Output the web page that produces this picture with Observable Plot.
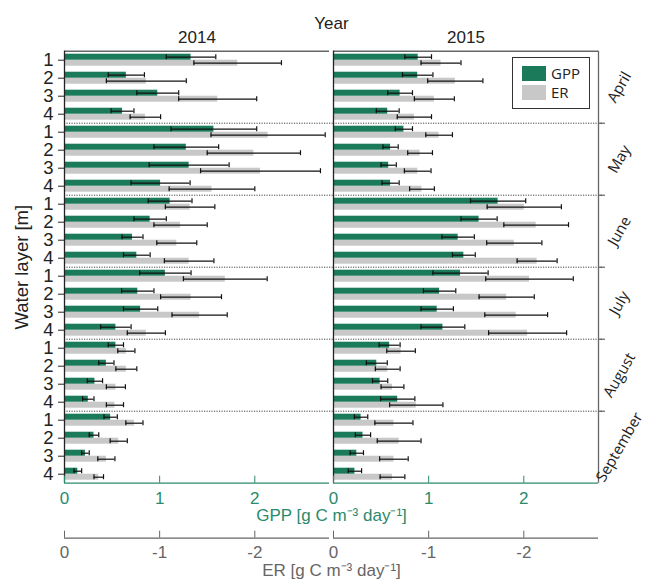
<!DOCTYPE html>
<html>
<head>
<meta charset="utf-8">
<script src="https://cdn.jsdelivr.net/npm/d3@7"></script>
<script src="https://cdn.jsdelivr.net/npm/@observablehq/plot@0.6"></script>
<style>
  body { margin: 0; background: #fff; }
  #chart { position: relative; width: 652px; height: 581px; font-family: "Liberation Sans", Arial, sans-serif; }
  #chart svg { display: block; }
  .legend { position: absolute; left: 512px; top: 57px; width: 76px; height: 50px; border: 1px solid #333; background: #fff;
            font-family: "Open Sans", sans-serif; font-size: 15px; color: #222; }
  .legend .sw { position: absolute; left: 9px; width: 24px; height: 15px; }
  .legend .lb { position: absolute; left: 38px; line-height: 15px; }
</style>
</head>
<body>
<div id="chart"></div>
<script>
// Sampling campaigns, water layers and years
const years = [2014, 2015];
const months = ["April", "May", "June", "July", "August", "September"];
const layers = ["1", "2", "3", "4"];

// Gross primary production (GPP) and its standard deviation, month by month, layers 1-4
const gpp2014   = [1.33, 0.65, 0.98, 0.61,  1.57, 1.28, 1.31, 1.01,  1.11, 0.90, 0.715, 0.76,  1.06, 0.77, 0.80, 0.54,  0.54, 0.44, 0.32, 0.25,  0.485, 0.31, 0.22, 0.14];
const gppSd2014 = [0.26, 0.19, 0.22, 0.12,  0.45, 0.34, 0.42, 0.31,  0.23, 0.17, 0.11, 0.14,  0.27, 0.17, 0.18, 0.16,  0.08, 0.08, 0.08, 0.06,  0.07, 0.05, 0.04, 0.04];
const gpp2015   = [0.89, 0.885, 0.70, 0.57,  0.74, 0.60, 0.58, 0.60,  1.73, 1.53, 1.31, 1.37,  1.335, 1.115, 1.09, 1.15,  0.59, 0.455, 0.49, 0.675,  0.29, 0.31, 0.245, 0.225];
const gppSd2015 = [0.14, 0.16, 0.13, 0.12,  0.09, 0.08, 0.08, 0.09,  0.29, 0.19, 0.17, 0.12,  0.29, 0.17, 0.17, 0.23,  0.11, 0.11, 0.08, 0.18,  0.07, 0.08, 0.07, 0.07];

// Ecosystem respiration (ER, shown as magnitude) and its standard deviation
const er2014   = [1.82, 0.86, 1.61, 0.85,  2.14, 1.99, 2.06, 1.55,  1.32, 1.22, 1.18, 1.31,  1.69, 1.33, 1.42, 0.86,  0.65, 0.65, 0.54, 0.53,  0.735, 0.57, 0.44, 0.36];
const erSd2014 = [0.46, 0.42, 0.41, 0.16,  0.60, 0.49, 0.63, 0.45,  0.26, 0.28, 0.21, 0.26,  0.44, 0.32, 0.29, 0.20,  0.09, 0.11, 0.10, 0.09,  0.09, 0.09, 0.09, 0.05];
const er2015   = [1.13, 1.28, 1.06, 0.85,  1.11, 0.91, 0.885, 0.93,  2.005, 2.13, 1.90, 2.14,  2.06, 1.82, 1.92, 2.04,  0.71, 0.57, 0.62, 0.87,  0.635, 0.69, 0.635, 0.62];
const erSd2015 = [0.21, 0.29, 0.21, 0.18,  0.14, 0.13, 0.14, 0.13,  0.39, 0.34, 0.29, 0.21,  0.46, 0.29, 0.33, 0.41,  0.15, 0.13, 0.12, 0.28,  0.20, 0.23, 0.15, 0.13];

// Axis ticks
const xTicks = [0, 1, 2];
const xMax = 2.785;

const series = {
  2014: {gpp: gpp2014, gppSd: gppSd2014, er: er2014, erSd: erSd2014},
  2015: {gpp: gpp2015, gppSd: gppSd2015, er: er2015, erSd: erSd2015}
};

const GREEN = "#1b7a5a";
const GREEN_AXIS = "#2a8a6b";
const GREY = "#c8c8c8";
const GREY_AXIS = "#666";

// One row per year × month × layer; "i" is the row position from the top
const rows = [];
for (const year of years) {
  months.forEach((month, m) => layers.forEach((layer, l) => {
    const k = m * layers.length + l;
    const s = series[year];
    rows.push({year, month, layer, i: k, gpp: s.gpp[k], gppSd: s.gppSd[k], er: s.er[k], erSd: s.erSd[k]});
  }));
}
const nRows = months.length * layers.length;

// Error bars: one entry per bar, centred on its half of the row
const errors = rows.flatMap(d => [
  {year: d.year, c: d.i + 1 / 3, lo: d.gpp - d.gppSd, hi: d.gpp + d.gppSd},
  {year: d.year, c: d.i + 2 / 3, lo: d.er - d.erSd, hi: d.er + d.erSd}
]);
const capHalf = 0.14;
const caps = errors.flatMap(e => [{year: e.year, c: e.c, x: e.lo}, {year: e.year, c: e.c, x: e.hi}]);

// Month boundaries and month label anchors
const boundaries = d3.range(1, months.length).map(m => m * layers.length);
const monthLabels = months.map((month, m) => ({year: 2015, month, mid: m * layers.length + layers.length / 2}));
const rightTicks = boundaries.map(y => ({year: 2015, y}));
const rowTicks = d3.range(nRows).map(i => i + 0.5);

const chart = Plot.plot({
  width: 652,
  height: 581,
  marginTop: 50.7,
  marginBottom: 98.3,
  marginLeft: 62.7,
  marginRight: 53.3,
  style: {fontFamily: "'Liberation Sans', Arial, sans-serif", fontSize: "17px", color: "#222", background: "#fff"},
  fx: {domain: years, paddingInner: 0.0148, paddingOuter: 0, axis: null},
  x: {type: "linear", domain: [0, xMax], axis: null},
  y: {type: "linear", domain: [0, nRows], reverse: true, axis: null},
  marks: [
    // month separators
    Plot.ruleY(boundaries, {stroke: "#444", strokeWidth: 1, strokeDasharray: "1.2,1.3", insetRight: -4}),
    Plot.ruleY(rightTicks, {fx: "year", y: "y", x1: xMax, x2: xMax, insetRight: -7, stroke: "#444"}),

    // bars: GPP in the upper half of each row, ER in the lower half
    Plot.rect(rows, {fx: "year", x1: 0, x2: "er", y1: d => d.i + 1 / 2, y2: d => d.i + 5 / 6, fill: GREY}),
    Plot.rect(rows, {fx: "year", x1: 0, x2: "gpp", y1: d => d.i + 1 / 6, y2: d => d.i + 1 / 2, fill: GREEN}),

    // error bars
    Plot.ruleY(errors, {fx: "year", y: "c", x1: "lo", x2: "hi", stroke: "#111", strokeWidth: 1.2}),
    Plot.ruleX(caps, {fx: "year", x: "x", y1: d => d.c - capHalf, y2: d => d.c + capHalf, stroke: "#111", strokeWidth: 1.2}),

    // panel frame
    Plot.ruleY([0], {stroke: "#666", strokeWidth: 1.5}),
    Plot.ruleX([{year: 2015}], {fx: "year", x: () => xMax, stroke: "#666", strokeWidth: 1.3}),
    Plot.ruleX([0], {stroke: "#222", strokeWidth: 1.3}),
    Plot.ruleY([nRows], {stroke: GREEN_AXIS, strokeWidth: 1.3}),
    Plot.ruleY([nRows], {stroke: GREY_AXIS, strokeWidth: 1.3, dy: 55}),

    // axes
    Plot.axisFx({anchor: "top", tickSize: 0, tickPadding: 8, fontSize: 17, tickFormat: String,
      label: "Year", labelAnchor: "center", labelOffset: 34}),
    Plot.axisY({anchor: "left", ticks: rowTicks, tickFormat: v => layers[Math.floor(v) % layers.length],
      tickSize: 6, tickPadding: 5, fontSize: 18.5, color: "#222",
      label: "Water layer [m]", labelAnchor: "center", labelArrow: false, labelOffset: 50}),
    Plot.axisX({anchor: "bottom", ticks: xTicks, tickFormat: String, tickSize: -7, tickPadding: 16, fontSize: 17, color: GREEN_AXIS,
      label: "GPP [g C m\u207B\u00B3 day\u207B\u00B9]", labelAnchor: "center", labelArrow: false, labelOffset: 38}),
    Plot.axisX({anchor: "bottom", ticks: xTicks, tickFormat: d => d === 0 ? "0" : `-${d}`, tickSize: -7, tickPadding: 15,
      dy: 55, fontSize: 17, color: GREY_AXIS,
      label: "ER [g C m\u207B\u00B3 day\u207B\u00B9]", labelAnchor: "center", labelArrow: false, labelOffset: 93}),

    // month names beside the right panel, reading upwards
    Plot.text(monthLabels, {fx: "year", y: "mid", text: "month", frameAnchor: "right", dx: 21, rotate: -60,
      textAnchor: "middle", lineAnchor: "middle",
      fontSize: 15, fontFamily: "'Open Sans', sans-serif", fill: "#222"})
  ]
});

const root = document.getElementById("chart");
root.appendChild(chart);

// Legend box in the top right of the 2015 panel
const legend = document.createElement("div");
legend.className = "legend";
legend.innerHTML =
  `<div class="sw" style="top:8px;background:${GREEN}"></div><div class="lb" style="top:8px">GPP</div>` +
  `<div class="sw" style="top:27px;background:${GREY}"></div><div class="lb" style="top:27px">ER</div>`;
root.appendChild(legend);
</script>
</body>
</html>
